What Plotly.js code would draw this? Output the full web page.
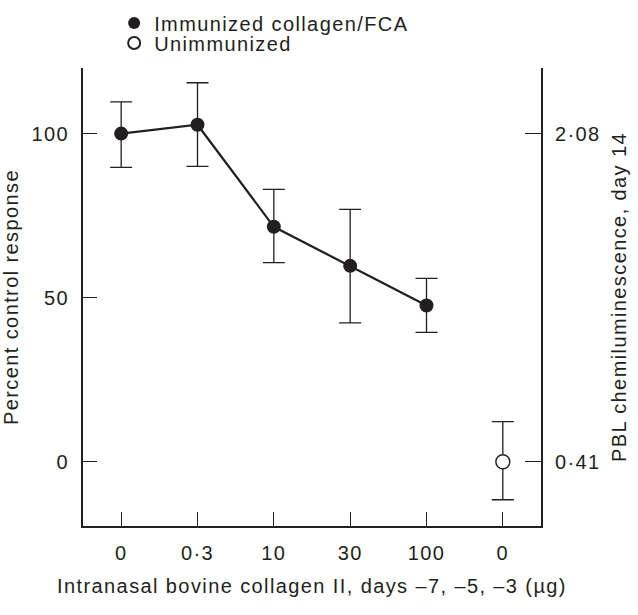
<!DOCTYPE html>
<html>
<head>
<meta charset="utf-8">
<script src="https://cdn.plot.ly/plotly-3.0.1.min.js"></script>
<style>
  html, body { margin: 0; padding: 0; background: #fff; }
  #chart { width: 638px; height: 615px; }
  svg text { letter-spacing: 1.4px; }
</style>
</head>
<body>
<div id="chart"></div>
<script>
// Category positions and tick labels (µg doses)
const doseLabels = ['0', '0·3', '10', '30', '100', '0'];
const positions = [0, 1, 2, 3, 4, 5];

// Immunized collagen/FCA (percent control response)
const immunizedX = [0, 1, 2, 3, 4];
const immunizedMean = [100, 102.7, 71.6, 59.7, 47.6];
const immunizedUpper = [109.7, 115.5, 83.0, 76.9, 55.9];
const immunizedLower = [89.7, 90.0, 60.7, 42.3, 39.4];

// Unimmunized
const unimmX = [5];
const unimmMean = [0];
const unimmUpper = [12.2];
const unimmLower = [-11.6];

// Right axis tick labels (PBL chemiluminescence)
const rightTickVals = [100, 0];
const rightTickText = ['2·08', '0·41'];
const leftTickVals = [0, 50, 100];

const ink = '#231f20';
const FONT = 'Liberation Sans, Arial, sans-serif';

const plus = (u, m) => u.map((v, i) => v - m[i]);
const minus = (l, m) => m.map((v, i) => v - l[i]);

const traces = [
  {
    x: immunizedX, y: immunizedMean, mode: 'lines', type: 'scatter',
    line: { color: ink, width: 2.2 }, showlegend: false, hoverinfo: 'skip'
  },
  {
    x: immunizedX, y: immunizedMean, mode: 'markers', type: 'scatter',
    name: 'Immunized collagen/FCA', legend: 'legend',
    marker: { color: ink, size: 14, symbol: 'circle' },
    error_y: {
      type: 'data', symmetric: false,
      array: plus(immunizedUpper, immunizedMean),
      arrayminus: minus(immunizedLower, immunizedMean),
      color: ink, thickness: 1.3, width: 11
    }
  },
  {
    x: unimmX, y: unimmMean, mode: 'markers', type: 'scatter',
    name: 'Unimmunized', legend: 'legend2',
    marker: { color: '#ffffff', size: 14, symbol: 'circle', line: { color: ink, width: 1.4 } },
    error_y: {
      type: 'data', symmetric: false,
      array: plus(unimmUpper, unimmMean),
      arrayminus: minus(unimmLower, unimmMean),
      color: ink, thickness: 1.3, width: 11
    }
  },
  {
    x: [null], y: [null], yaxis: 'y2', mode: 'markers', type: 'scatter',
    showlegend: false, hoverinfo: 'skip'
  }
];

const yRange = [-19.6, 120];

const layout = {
  width: 638, height: 615,
  margin: { l: 83, r: 97, t: 68, b: 89, autoexpand: false },
  paper_bgcolor: '#fff', plot_bgcolor: '#fff',
  font: { family: FONT, size: 20, color: ink },
  showlegend: true,
  xaxis: {
    range: [-0.5, 5.5], tickmode: 'array', tickvals: positions, ticktext: doseLabels,
    showline: true, linecolor: ink, linewidth: 2, mirror: false,
    ticks: 'inside', ticklen: 14, tickwidth: 1.3, tickcolor: ink,
    showgrid: false, zeroline: false, ticklabelstandoff: 8,
    tickfont: { family: FONT, size: 20, color: ink },
    title: { text: 'Intranasal bovine collagen II, days –7, –5, –3 (µg)', font: { family: FONT, size: 20, color: ink }, standoff: 16 }
  },
  yaxis: {
    range: yRange, tickmode: 'array', tickvals: leftTickVals,
    showline: true, linecolor: ink, linewidth: 2,
    ticks: 'inside', ticklen: 14, tickwidth: 1.3, tickcolor: ink,
    showgrid: false, zeroline: false, ticklabelstandoff: 8,
    tickfont: { family: FONT, size: 20, color: ink },
    title: { text: 'Percent control response', font: { family: FONT, size: 20, color: ink }, standoff: 14 }
  },
  yaxis2: {
    overlaying: 'y', side: 'right', range: yRange,
    tickmode: 'array', tickvals: rightTickVals, ticktext: rightTickText,
    showline: true, linecolor: ink, linewidth: 2,
    ticks: 'inside', ticklen: 16, tickwidth: 1.3, tickcolor: ink,
    showgrid: false, zeroline: false, ticklabelstandoff: 8,
    tickfont: { family: FONT, size: 20, color: ink },
    title: { text: 'PBL chemiluminescence, day 14', font: { family: FONT, size: 20, color: ink }, standoff: 12 }
  },
  legend: {
    x: 0.068, y: 1.098, xanchor: 'left', yanchor: 'middle',
    bgcolor: 'rgba(0,0,0,0)', borderwidth: 0, itemsizing: 'constant',
    font: { family: FONT, size: 20, color: ink }
  },
  legend2: {
    x: 0.068, y: 1.0546, xanchor: 'left', yanchor: 'middle',
    bgcolor: 'rgba(0,0,0,0)', borderwidth: 0, itemsizing: 'constant',
    font: { family: FONT, size: 20, color: ink }
  }
};

Plotly.newPlot('chart', traces, layout, { displayModeBar: false, staticPlot: true });
</script>
</body>
</html>
